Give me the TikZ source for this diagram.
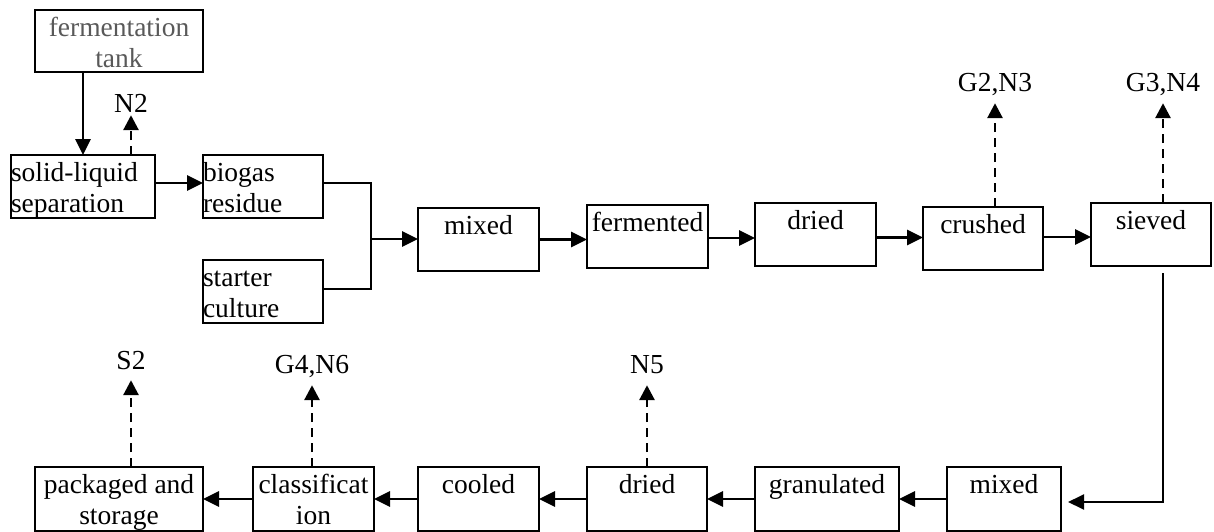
\documentclass[tikz,border=0pt]{standalone}
\usepackage{fontspec}
\setmainfont{Liberation Serif}
\usetikzlibrary{arrows.meta}
\definecolor{tanktext}{RGB}{89,89,89}
% box body: width, height, alignment, text (first baseline fixed below the top edge)
\newcommand{\cellbox}[4]{\parbox[t][#2][t]{#1}{#3\rule{0pt}{26.5pt}#4}}

\begin{document}
\begin{tikzpicture}[x=1pt,y=-1pt,
  every node/.style={font=\fontsize{27.5}{31}\selectfont},
  stepbox/.style={draw, line width=2.3pt, inner sep=0pt, outer sep=0pt, anchor=north west},
  tag/.style={inner sep=0pt, anchor=base, text depth=0pt},
  flow/.style={line width=2.9pt, -{Triangle[length=16pt,width=15pt]}},
  vent/.style={line width=2.9pt, dash pattern=on 9pt off 6pt, -{Triangle[length=15pt,width=15pt]}},
  joint/.style={line width=2pt}]

\useasboundingbox (0,0) rectangle (1214,532);

% upper process line
\node[stepbox] (tank) at (35,10)   {\cellbox{168pt}{62pt}{\centering\color{tanktext}}{fermentation\\tank}};
\node[stepbox] (sl)   at (11,155)  {\cellbox{144pt}{63pt}{\raggedright}{solid-liquid\\separation}};
\node[stepbox] (bio)  at (203,155) {\cellbox{120pt}{63pt}{\raggedright}{biogas\\residue}};
\node[stepbox] (sc)   at (203,260) {\cellbox{120pt}{63pt}{\raggedright}{starter\\culture}};
\node[stepbox] (mix)  at (418,208) {\cellbox{121pt}{63pt}{\centering}{mixed}};
\node[stepbox] (fer)  at (587,205) {\cellbox{121pt}{63pt}{\centering}{fermented}};
\node[stepbox] (dr)   at (755,203) {\cellbox{121pt}{63pt}{\centering}{dried}};
\node[stepbox] (cr)   at (923,207) {\cellbox{120pt}{63pt}{\centering}{crushed}};
\node[stepbox] (sv)   at (1091,203){\cellbox{120pt}{63pt}{\centering}{sieved}};

% lower process line
\node[stepbox] (pk)  at (35,467)  {\cellbox{168pt}{64pt}{\centering}{packaged and\\storage}};
\node[stepbox] (cl)  at (253,467) {\cellbox{121pt}{64pt}{\centering}{classificat\\ion}};
\node[stepbox] (co)  at (418,467) {\cellbox{121pt}{64pt}{\centering}{cooled}};
\node[stepbox] (dr2) at (587,467) {\cellbox{120pt}{64pt}{\centering}{dried}};
\node[stepbox] (gr)  at (755,467) {\cellbox{144pt}{64pt}{\centering}{granulated}};
\node[stepbox] (mx2) at (947,467) {\cellbox{114pt}{64pt}{\centering}{mixed}};

% emission labels
\node[tag] (n2) at (131,113)  {N2};
\node[tag] (g2) at (995,92)   {G2,N3};
\node[tag] (g3) at (1163,92)  {G3,N4};
\node[tag] (s2) at (131,369)  {S2};
\node[tag] (g4) at (312,373)  {G4,N6};
\node[tag] (n5) at (647,373)  {N5};

% main flow
\draw[flow] (tank.south -| sl.north) -- (sl.north);
\draw[flow] ([yshift=3.5pt]sl.east) -- ([yshift=3.5pt]bio.west);

\coordinate (jn) at (371,239);
\draw[joint] ([yshift=3.5pt]bio.east) -| (jn);
\draw[joint] ([yshift=2.5pt]sc.east) -| (jn);
\draw[flow] (jn) -- (mix.west |- jn);

\draw[flow] (mix.east) -- (mix.east -| fer.west);
\draw[flow] ([yshift=-1.5pt]fer.east) -- ([yshift=-1.5pt]fer.east -| dr.west);
\draw[flow] ([yshift=-3pt]dr.east) -- ([yshift=-3pt]dr.east -| cr.west);
\draw[flow] ([yshift=1.5pt]cr.east) -- ([yshift=1.5pt]cr.east -| sv.west);

\coordinate (turn) at (1163,502);
\draw[joint, -{Triangle[length=16pt,width=15pt]}, shorten <=7pt, shorten >=7pt]
  (sv.south -| turn) -- (turn) -- (turn -| mx2.east);

\draw[flow] (mx2.west) -- (mx2.west -| gr.east);
\draw[flow] (gr.west) -- (gr.west -| dr2.east);
\draw[flow] (dr2.west) -- (dr2.west -| co.east);
\draw[flow] (co.west) -- (co.west -| cl.east);
\draw[flow] (cl.west) -- (cl.west -| pk.east);

% emissions
\draw[vent, shorten >=2pt]  (sl.north -| n2) -- (n2.south);
\draw[vent, shorten >=11pt] (cr.north -| g2) -- (g2.south);
\draw[vent, shorten >=11pt] (sv.north -| g3) -- (g3.south);
\draw[vent, shorten >=11pt] (pk.north -| s2) -- (s2.south);
\draw[vent, shorten >=12pt] (cl.north -| g4) -- (g4.south);
\draw[vent, shorten >=12pt] (dr2.north -| n5) -- (n5.south);
\end{tikzpicture}
\end{document}
